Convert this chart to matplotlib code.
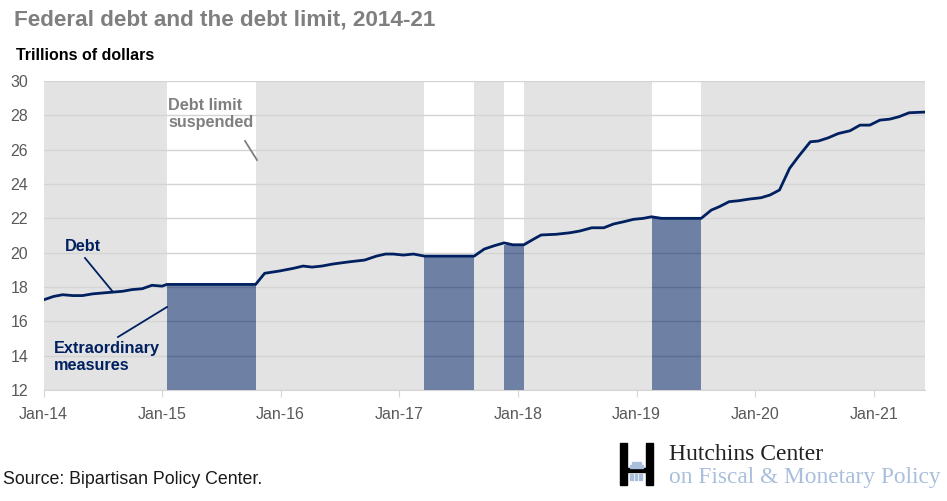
import numpy as np
import pandas as pd
import matplotlib
matplotlib.use("Agg")
import matplotlib.pyplot as plt
import matplotlib.dates as mdates
from matplotlib.patches import Rectangle
from matplotlib.lines import Line2D

plt.rcParams['font.family'] = ['Liberation Sans', 'DejaVu Sans']

######################### DATA ################################
# federal debt, trillions of dollars
debt_dates = ["2014-01-01", "2014-02-01", "2014-03-01", "2014-04-01", "2014-05-01",
              "2014-06-01", "2014-07-01", "2014-08-01", "2014-09-01", "2014-10-01",
              "2014-11-01", "2014-12-01", "2015-01-01", "2015-01-16", "2015-10-16",
              "2015-11-13", "2015-12-28", "2016-02-10", "2016-03-10", "2016-04-07",
              "2016-05-07", "2016-06-10", "2016-08-01", "2016-09-16", "2016-10-22",
              "2016-11-19", "2016-12-13", "2017-01-13", "2017-02-13", "2017-03-19",
              "2017-08-19", "2017-09-19", "2017-10-19", "2017-11-19", "2017-12-16",
              "2018-01-19", "2018-02-19", "2018-03-13", "2018-04-28", "2018-06-10",
              "2018-07-10", "2018-08-16", "2018-09-22", "2018-10-22", "2018-11-22",
              "2018-12-22", "2019-01-22", "2019-02-16", "2019-03-19", "2019-07-19",
              "2019-08-19", "2019-09-13", "2019-10-13", "2019-11-13", "2019-12-13",
              "2020-01-19", "2020-02-16", "2020-03-16", "2020-04-16", "2020-05-13",
              "2020-06-19", "2020-07-13", "2020-08-13", "2020-09-13", "2020-10-19",
              "2020-11-19", "2020-12-19", "2021-01-19", "2021-02-19", "2021-03-19",
              "2021-04-19", "2021-06-07"]
debt_values = [17.25, 17.45, 17.55, 17.50, 17.50,
               17.60, 17.65, 17.70, 17.75, 17.85,
               17.90, 18.10, 18.05, 18.15, 18.15,
               18.80, 18.93, 19.09, 19.22, 19.16,
               19.22, 19.34, 19.47, 19.57, 19.80,
               19.92, 19.92, 19.86, 19.92, 19.80,
               19.80, 20.21, 20.40, 20.57, 20.46,
               20.46, 20.80, 21.03, 21.07, 21.16,
               21.26, 21.45, 21.45, 21.67, 21.80,
               21.94, 22.00, 22.09, 22.00, 22.00,
               22.48, 22.68, 22.97, 23.03, 23.12,
               23.20, 23.36, 23.65, 24.91, 25.59,
               26.46, 26.50, 26.69, 26.94, 27.10,
               27.43, 27.43, 27.72, 27.78, 27.92,
               28.15, 28.19]

# extraordinary measures (debt limit binding, not suspended)
em_start = ["2015-01-16", "2017-03-19", "2017-11-19", "2019-02-16"]
em_end = ["2015-10-16", "2017-08-19", "2018-01-19", "2019-07-19"]
em_level = [18.15, 19.80, 20.46, 22.00]

x_start = "2014-01-01"
x_end = "2021-06-07"

######################### GRAFICO ################################
W, H = 947, 501
fig = plt.figure(figsize=(W / 100, H / 100), dpi=100)

def fp(x, y):
    # pixel -> figure fraction
    return x / W, 1 - y / H

ax = fig.add_axes([43.5 / W, 1 - 390 / H, (925 - 43.5) / W, (390 - 81) / H])
ax.set_facecolor('#e3e3e3')

d = pd.to_datetime(debt_dates)
s0 = pd.to_datetime(em_start)
s1 = pd.to_datetime(em_end)

# periods where the limit is not suspended -> white
for a, b in zip(s0, s1):
    ax.axvspan(a, b, color='white', zorder=0.2, lw=0)

ax.set_axisbelow(True)
ax.yaxis.grid(True, color='#d4d4d4', lw=1)

# extraordinary measures blocks
for a, b, lv in zip(s0, s1, em_level):
    ax.bar(a, lv - 12, bottom=12, width=(b - a), align='edge',
           color='#002060', alpha=0.57, lw=0, zorder=1)

ax.plot(d, debt_values, color='#002060', lw=2, zorder=2)

ax.set_ylim(12, 30)
ax.set_yticks(np.arange(12, 31, 2))
ax.set_xlim(pd.Timestamp(x_start), pd.Timestamp(x_end))
ax.xaxis.set_major_locator(mdates.YearLocator(month=1, day=1))
ax.xaxis.set_major_formatter(mdates.DateFormatter('%b-%y'))

for sp in ['top', 'right', 'left']:
    ax.spines[sp].set_visible(False)
ax.spines['bottom'].set_color('#d4d4d4')
ax.tick_params(axis='x', length=5, color='#d4d4d4', labelsize=11.5,
               labelcolor='#595959', pad=7)
ax.tick_params(axis='y', length=0, labelsize=11.5, labelcolor='#595959', pad=11)

# titulos
fig.text(*fp(14, 20), "Federal debt and the debt limit, 2014-21", fontsize=16.2,
         fontweight='bold', color='#7f7f7f', va='center', ha='left')
fig.text(*fp(16, 55), "Trillions of dollars", fontsize=11.5, fontweight='bold',
         color='black', va='center', ha='left')

# anotaciones
fig.text(*fp(168, 114), "Debt limit\nsuspended", fontsize=11.7, fontweight='bold',
         color='#7f7f7f', va='center', ha='left', linespacing=1.25)
fig.add_artist(Line2D([245 / W, 257 / W], [1 - 141 / H, 1 - 160 / H],
                      color='#7f7f7f', lw=1.3))
fig.text(*fp(65, 247), "Debt", fontsize=11.7, fontweight='bold',
         color='#002060', va='center', ha='left')
fig.add_artist(Line2D([85 / W, 113 / W], [1 - 258 / H, 1 - 292 / H],
                      color='#002060', lw=1.3))
fig.text(*fp(54, 357), "Extraordinary\nmeasures", fontsize=11.7, fontweight='bold',
         color='#002060', va='center', ha='left', linespacing=1.2)
fig.add_artist(Line2D([118 / W, 167 / W], [1 - 337 / H, 1 - 307 / H],
                      color='#002060', lw=1.3))

# fuente
fig.text(*fp(3, 480), "Source: Bipartisan Policy Center.", fontsize=12.8,
         color='#1a1a1a', va='center', ha='left')

# logo Hutchins
fig.patches.append(Rectangle(fp(620, 485), 7 / W, 42 / H, color='black',
                             transform=fig.transFigure, figure=fig))
fig.patches.append(Rectangle(fp(646, 485), 7 / W, 42 / H, color='black',
                             transform=fig.transFigure, figure=fig))
fig.patches.append(Rectangle(fp(627, 472), 19 / W, 4 / H, color='black',
                             transform=fig.transFigure, figure=fig))
fig.patches.append(Rectangle(fp(630, 468), 13 / W, 3 / H, color='#a9bfdc',
                             transform=fig.transFigure, figure=fig))
fig.patches.append(Rectangle(fp(632, 465), 9 / W, 3 / H, color='#a9bfdc',
                             transform=fig.transFigure, figure=fig))
for cx in [630, 634.5, 639]:
    fig.patches.append(Rectangle(fp(cx, 480), 2.5 / W, 6 / H, color='#a9bfdc',
                                 transform=fig.transFigure, figure=fig))
fig.text(*fp(669, 455), "Hutchins Center", fontsize=17, family='Liberation Serif',
         color='#222222', va='center', ha='left')
fig.text(*fp(669, 478), "on Fiscal & Monetary Policy", fontsize=16.8,
         family='Liberation Serif', color='#a9bfdc', va='center', ha='left')

fig.savefig('out.png', dpi=100)
